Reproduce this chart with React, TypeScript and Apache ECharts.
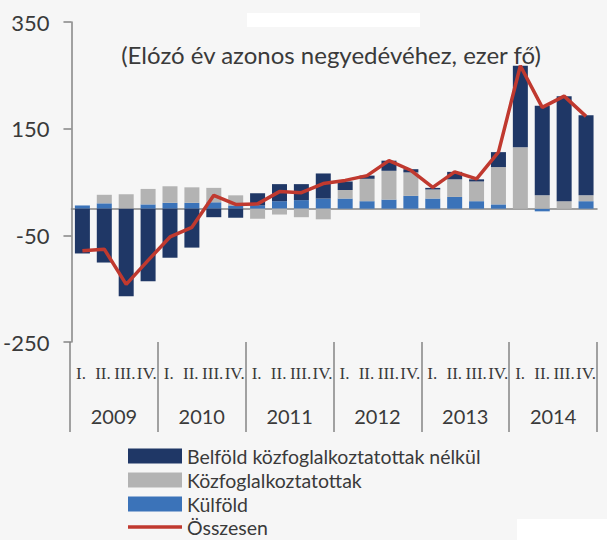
import React, { useEffect, useRef } from "react";
import * as echarts from "echarts";

const quarters = [
  "I.", "II.", "III.", "IV.", "I.", "II.", "III.", "IV.", "I.", "II.", "III.", "IV.",
  "I.", "II.", "III.", "IV.", "I.", "II.", "III.", "IV.", "I.", "II.", "III.", "IV.",
];
const years = ["2009", "2010", "2011", "2012", "2013", "2014"];

const kulfold = [6, 10, 0, 8, 11, 11, 12, 6, 6, 14, 16, 19, 19, 14, 17, 24, 19, 22, 14, 8, 0, -5, 0, 14];
const kozfog = [0, 16, 27, 29, 31, 29, 27, 19, -19, -11, -16, -20, 16, 42, 54, 44, 17, 33, 37, 70, 115, 25, 14, 11];
const belfold = [-84, -101, -164, -136, -92, -73, -16, -17, 23, 32, 30, 47, 16, 6, 19, 6, 3, 14, 4, 28, 153, 168, 197, 150];
const osszesen = [-79, -76, -142, -97, -53, -35, 25, 8, 9, 32, 30, 47, 53, 62, 90, 72, 40, 69, 56, 106, 268, 190, 211, 173];

const yTicks = { min: -250, max: 350, interval: 200 };

const NAVY = "#1f3766";
const GRAY = "#b3b3b3";
const BLUE = "#3b73b9";
const RED = "#c0392f";
const AXIS = "#858585";
const TXT = "#3a3a3a";

const legendText = { fontFamily: "Lato", fontSize: 19.5, color: TXT, lineHeight: 16 };

export default function App() {
  const ref = useRef<HTMLDivElement>(null);
  useEffect(() => {
    if (!ref.current) return;
    const chart = echarts.init(ref.current, null, { renderer: "svg" });
    const gridRect = { left: 70, right: 10, top: 22, bottom: 198 };
    const mkLegend = (name: string, top: number, extra: any = {}) => ({
      orient: "vertical",
      left: 128,
      top,
      padding: 0,
      itemWidth: 54,
      itemHeight: 15,
      itemGap: 0,
      icon: "rect",
      data: [name],
      textStyle: legendText,
      ...extra,
    });
    chart.setOption({
      animation: false,
      backgroundColor: "#f6f6f6",
      grid: [{ ...gridRect }, { ...gridRect }, { ...gridRect }],
      legend: [
        mkLegend("Belföld közfoglalkoztatottak nélkül", 446),
        mkLegend("Közfoglalkoztatottak", 470),
        mkLegend("Külföld", 494),
        mkLegend("Összesen", 517, { itemHeight: 3.5 }),
      ],
      xAxis: [
        {
          type: "category",
          gridIndex: 0,
          data: quarters,
          axisLine: { onZero: true, lineStyle: { color: AXIS, width: 1.5 } },
          axisTick: { show: false },
          axisLabel: { show: false },
        },
        {
          type: "category",
          gridIndex: 1,
          position: "bottom",
          data: quarters,
          axisLine: { show: false, onZero: false },
          axisTick: { show: false },
          axisLabel: {
            interval: 0,
            margin: 23,
            fontFamily: "Liberation Serif",
            fontSize: 17,
            color: TXT,
          },
        },
        {
          type: "category",
          gridIndex: 2,
          position: "bottom",
          data: years,
          axisLine: { show: false, onZero: false },
          axisTick: { show: true, length: 90, lineStyle: { color: AXIS, width: 1.5 } },
          axisLabel: {
            interval: 0,
            margin: 64,
            fontFamily: "Lato",
            fontSize: 20,
            color: TXT,
          },
        },
      ],
      yAxis: [
        {
          type: "value",
          gridIndex: 0,
          min: yTicks.min,
          max: yTicks.max,
          interval: yTicks.interval,
          axisLine: { show: true, lineStyle: { color: AXIS, width: 1.5 } },
          axisTick: { show: true, length: 8, lineStyle: { color: AXIS, width: 1.5 } },
          splitLine: { show: false },
          axisLabel: { margin: 22, fontFamily: "Lato", fontSize: 22, color: TXT },
        },
        { type: "value", gridIndex: 1, show: false, min: yTicks.min, max: yTicks.max },
        { type: "value", gridIndex: 2, show: false, min: yTicks.min, max: yTicks.max },
      ],
      series: [
        {
          name: "Külföld",
          type: "bar",
          stack: "a",
          xAxisIndex: 0,
          yAxisIndex: 0,
          barWidth: 15,
          itemStyle: { color: BLUE },
          data: kulfold,
        },
        {
          name: "Közfoglalkoztatottak",
          type: "bar",
          stack: "a",
          xAxisIndex: 0,
          yAxisIndex: 0,
          barWidth: 15,
          itemStyle: { color: GRAY },
          data: kozfog,
        },
        {
          name: "Belföld közfoglalkoztatottak nélkül",
          type: "bar",
          stack: "a",
          xAxisIndex: 0,
          yAxisIndex: 0,
          barWidth: 15,
          itemStyle: { color: NAVY },
          data: belfold,
        },
        {
          name: "Összesen",
          type: "line",
          xAxisIndex: 0,
          yAxisIndex: 0,
          symbol: "none",
          z: 5,
          lineStyle: { color: RED, width: 3.5 },
          itemStyle: { color: RED },
          data: osszesen,
        },
      ],
      graphic: [
        {
          type: "text",
          x: 331,
          y: 54,
          style: {
            text: "(Elózó év azonos negyedévéhez, ezer fő)",
            fontFamily: "Lato",
            fontSize: 24,
            fill: TXT,
            align: "center",
            verticalAlign: "middle",
          },
        },
        { type: "rect", shape: { x: 247, y: 13, width: 173, height: 14 }, style: { fill: "#ffffff" } },
        { type: "rect", shape: { x: 517, y: 519, width: 90, height: 21 }, style: { fill: "#ffffff" } },
      ],
    });
    return () => chart.dispose();
  }, []);
  return (
    <div
      ref={ref}
      style={{ position: "fixed", left: 0, top: 0, width: 607, height: 540 }}
    />
  );
}
